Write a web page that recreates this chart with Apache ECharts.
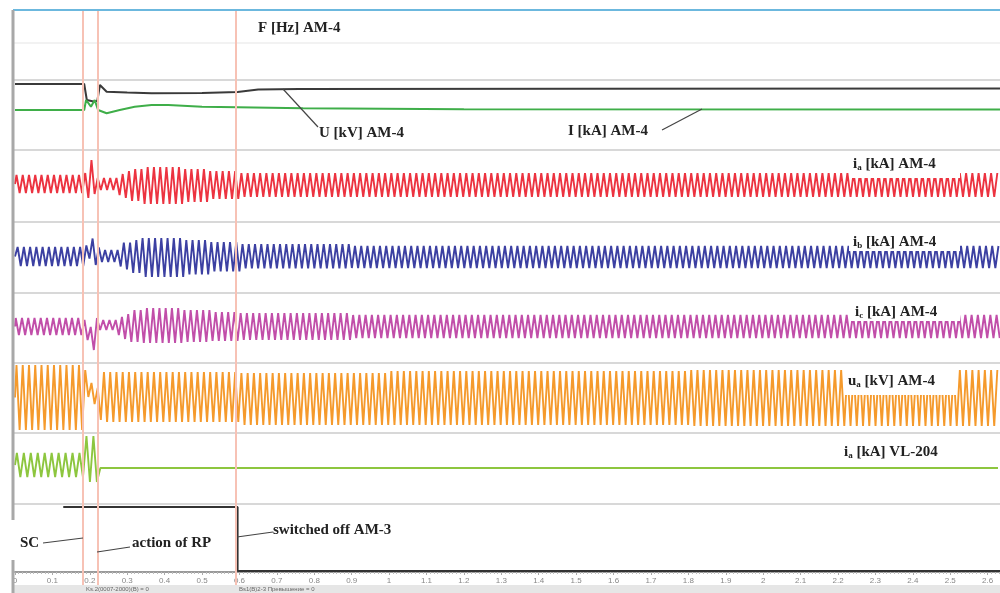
<!DOCTYPE html>
<html><head><meta charset="utf-8">
<script src="https://cdn.jsdelivr.net/npm/echarts@6/dist/echarts.min.js"></script>
<style>html,body{margin:0;padding:0;background:#fff}#c{width:1000px;height:593px}</style>
</head><body><div id="c"></div>
<script>
// ---------- DATA ----------
const X_MAX = 2.633;            // seconds shown
const HALF_AM4 = 0.00835;       // half period of the AM-4 traces as drawn
const HALF_VL = 0.0093;         // half period of the VL-204 trace as drawn
const tickLabels = ['0','0.1','0.2','0.3','0.4','0.5','0.6','0.7','0.8','0.9','1','1.1','1.2','1.3','1.4','1.5','1.6','1.7','1.8','1.9','2','2.1','2.2','2.3','2.4','2.5','2.6'];
const eventTimes = [0.185, 0.217, 0.595];   // SC, action of RP, switched off AM-3

// U [kV] AM-4 and I [kA] AM-4 (relative units)
const uT = [0, 0.185, 0.192, 0.21, 0.22, 0.227, 0.245, 0.3, 0.365, 0.5, 0.595, 0.65, 0.76, 1.5, 2.633];
const uV = [31, 31, 15, 13.5, 14, 30, 23.3, 22.5, 21.7, 22, 23, 25.5, 26, 26.3, 26.5];
const iT = [0, 0.185, 0.19, 0.203, 0.213, 0.222, 0.245, 0.28, 0.32, 0.365, 0.41, 0.5, 0.595, 0.77, 1.2, 2.633];
const iV = [5, 5, 15, 8.3, 15, 5, 1.7, 5, 8.3, 10, 10, 8.3, 7.7, 6.7, 5.7, 5.5];

// envelope knots of the oscillating traces: time, positive peak, negative peak
const iaT  = [0, 0.185, 0.19, 0.205, 0.215, 0.225, 0.275, 0.29, 0.31, 0.34, 0.45, 0.52, 0.6];
const iaHi = [11, 13, 26, 19, 8, 8, 12, 15, 17, 19, 17, 15, 13];
const iaLo = [-7, -9, -12, -8, -4, -4, -9, -12, -15, -18, -16, -13, -11];

const ibT  = [0, 0.185, 0.195, 0.205, 0.22, 0.23, 0.275, 0.29, 0.31, 0.34, 0.45, 0.52, 0.6, 0.9];
const ibHi = [10.5, 12, 28, 19, 10, 7.5, 12, 15, 17.5, 19.5, 17.5, 15.5, 13.5, 11.5];
const ibLo = [-8.5, -9, -1, -7.5, -7.5, -4.5, -9, -12, -15.5, -19.5, -17, -14, -11, -10.5];

const icT  = [0, 0.185, 0.195, 0.205, 0.215, 0.225, 0.275, 0.29, 0.31, 0.34, 0.45, 0.52, 0.6, 0.9];
const icHi = [10, 8, 1, 6, 10, 8, 11, 14, 18, 20, 18, 16, 15, 13];
const icLo = [-7, -12, -30, -22, -19, -2, -7, -11, -14, -15, -14, -13, -12, -10];

const uaT  = [0, 0.186, 0.196, 0.206, 0.222, 0.235, 0.6, 1.0, 1.8];
const uaHi = [33, 28, 15, 10, 31, 26, 25, 27, 28];
const uaLo = [-32, -15, 1, -6, -22, -24, -27, -27, -28];

const vlT  = [0, 0.185, 0.224];
const vlHi = [15.5, 32.5, 0.5];
const vlLo = [-8.5, -13.5, 0.5];

// switching signal
const sigT = [0.129, 0.595, 0.595, 2.633];
const sigV = [1, 1, 0, 0];

// ---------- LAYOUT / STYLE ----------
const bands = [
  {top: 80, h: 70}, {top: 150, h: 72}, {top: 222, h: 71}, {top: 293, h: 70},
  {top: 363, h: 70}, {top: 433, h: 71}, {top: 504, h: 68}
];
const LEFT = 15;
const FONT = '"Liberation Serif","DejaVu Serif",serif';

function stepAt(T, arr, t) { let i = 0; while (i + 1 < T.length && T[i + 1] <= t) i++; return arr[i]; }
function buildWave(T, HI, LO, phase, half) {
  const pts = [[0, (HI[0] + LO[0]) / 2]];
  for (let k = 0; ; k++) {
    const t = +(phase + k * half).toFixed(5);
    if (t > X_MAX) break;
    pts.push([t, k % 2 === 0 ? stepAt(T, HI, t) : stepAt(T, LO, t)]);
  }
  return pts;
}
const zip = (a, b) => a.map((v, i) => [v, b[i]]);

const grids = bands.map(b => ({left: LEFT, right: 0, top: b.top, height: b.h, outerBoundsMode: 'none'}));
grids.push({left: LEFT, right: 0, top: 10, bottom: 5, outerBoundsMode: 'none'}); // overlay

const xAxes = grids.map((g, i) => ({
  gridIndex: i, type: 'value', min: 0, max: X_MAX, show: i === 6,
  interval: 0.1, splitLine: {show: false},
  axisLine: {show: true, onZero: false, lineStyle: {color: '#9a9a9a', width: 2}},
  axisTick: {show: true, length: 3, lineStyle: {color: '#aaa'}},
  minorTick: {show: true, splitNumber: 10, length: 2, lineStyle: {color: '#bbb'}},
  axisLabel: {show: true, fontSize: 8, color: '#888', margin: 5, showMaxLabel: false, fontFamily: 'Arial',
    formatter: v => { const i = Math.round(v * 10); return Math.abs(v * 10 - i) < 1e-6 ? (tickLabels[i] || '') : ''; }}
}));
const yAxes = grids.map((g, i) => {
  if (i === 6) return {gridIndex: i, type: 'value', min: -0.0156, max: 1.047, show: false};
  if (i === 7) return {gridIndex: i, type: 'value', min: 0, max: 1, show: false};
  const h = bands[i].h;
  return {gridIndex: i, type: 'value', min: -h / 2, max: h / 2, show: false};
});

function line(idx, data, color, width, z) {
  return {type: 'line', xAxisIndex: idx, yAxisIndex: idx, data, showSymbol: false, symbol: 'none',
    lineStyle: {color, width}, z: z || 3, animation: false, silent: true};
}
const series = [
  line(0, zip(uT, uV), '#3a3a3a', 2),
  line(0, zip(iT, iV), '#3fae49', 2),
  line(1, buildWave(iaT, iaHi, iaLo, 0.004, HALF_AM4), '#ec3340', 1.9),
  line(2, buildWave(ibT, ibHi, ibLo, 0.007, HALF_AM4), '#3c40a2', 1.9),
  line(3, buildWave(icT, icHi, icLo, 0.002, HALF_AM4), '#c14ea9', 1.9),
  line(4, buildWave(uaT, uaHi, uaLo, 0.004, HALF_AM4), '#f59a2c', 1.9),
  line(5, buildWave(vlT, vlHi, vlLo, 0.005, HALF_VL), '#8dc63f', 1.9),
  line(6, zip(sigT, sigV), '#333333', 2),
  {type: 'line', xAxisIndex: 7, yAxisIndex: 7, data: [[0, -5]], showSymbol: false, z: 1, animation: false,
    lineStyle: {opacity: 0},
    markLine: {symbol: 'none', silent: true, animation: false, label: {show: false},
      lineStyle: {color: '#f7c2b5', width: 2, type: 'solid'},
      data: eventTimes.map(t => ({xAxis: t}))}}
];

// ---------- GRAPHICS (frame, labels) ----------
const g = [];
const sepYs = bands.map(b => b.top).concat([433 + 71]);
g.push({type: 'line', shape: {x1: 13, y1: 43, x2: 1000, y2: 43}, style: {stroke: '#eeeeee', lineWidth: 1.5}, z: 0});
sepYs.forEach(y => g.push({type: 'line', shape: {x1: 13, y1: y, x2: 1000, y2: y}, style: {stroke: '#d8d8d8', lineWidth: 2}, z: 0}));
g.push({type: 'line', shape: {x1: 13, y1: 10, x2: 1000, y2: 10}, style: {stroke: '#6cb8de', lineWidth: 2}, z: 50});
g.push({type: 'line', shape: {x1: 13, y1: 10, x2: 13, y2: 520}, style: {stroke: '#a8a8a8', lineWidth: 3}, z: 50});
g.push({type: 'line', shape: {x1: 13, y1: 560, x2: 13, y2: 593}, style: {stroke: '#a8a8a8', lineWidth: 3}, z: 50});
g.push({type: 'rect', shape: {x: 13, y: 585, width: 987, height: 8}, style: {fill: '#e6e6e6'}, z: 40});
g.push({type: 'text', x: 86, y: 589, style: {text: 'Ks.2(0007-2000)(B) = 0', font: '6px Arial', fill: '#666', verticalAlign: 'middle'}, z: 41});
g.push({type: 'text', x: 239, y: 589, style: {text: 'Bs1(B)2-3 Превышение = 0', font: '6px Arial', fill: '#666', verticalAlign: 'middle'}, z: 41});

// white boxes behind band labels
[[849, 151, 111, 27], [849, 229, 111, 22], [849, 300, 111, 21], [845, 369, 112, 26], [842, 442, 110, 22]]
  .forEach(r => g.push({type: 'rect', shape: {x: r[0], y: r[1], width: r[2], height: r[3]}, style: {fill: '#fff'}, z: 60}));

const rich = {
  m: {fontFamily: FONT, fontSize: 15, fontWeight: 'bold', fill: '#222', lineHeight: 16},
  s: {fontFamily: FONT, fontSize: 9, fontWeight: 'bold', fill: '#222', lineHeight: 16, verticalAlign: 'bottom'}
};
function label(x, y, text) {
  g.push({type: 'text', x, y, z: 70, style: {text, rich, verticalAlign: 'middle', align: 'left'}});
}
label(258, 28, '{m|F [Hz] AM-4}');
label(319, 133, '{m|U [kV] AM-4}');
label(568, 131, '{m|I [kA] AM-4}');
label(853, 164, '{m|i}{s|a}{m| [kA] AM-4}');
label(853, 242, '{m|i}{s|b}{m| [kA] AM-4}');
label(855, 312, '{m|i}{s|c}{m| [kA] AM-4}');
label(848, 381, '{m|u}{s|a}{m| [kV] AM-4}');
label(844, 452, '{m|i}{s|a}{m| [kA] VL-204}');
label(20, 543, '{m|SC}');
label(132, 543, '{m|action of RP}');
label(273, 530, '{m|switched off AM-3}');

// leader lines
[[283, 89, 318, 127], [662, 130, 702, 109], [43, 543, 83, 538], [97, 552, 130, 547], [237, 537, 273, 532]]
  .forEach(l => g.push({type: 'line', shape: {x1: l[0], y1: l[1], x2: l[2], y2: l[3]}, style: {stroke: '#444', lineWidth: 1.2}, z: 65}));

const chart = echarts.init(document.getElementById('c'), null, {renderer: 'canvas'});
chart.setOption({
  animation: false,
  backgroundColor: '#fff',
  grid: grids, xAxis: xAxes, yAxis: yAxes, series, graphic: {elements: g}
});
</script></body></html>
